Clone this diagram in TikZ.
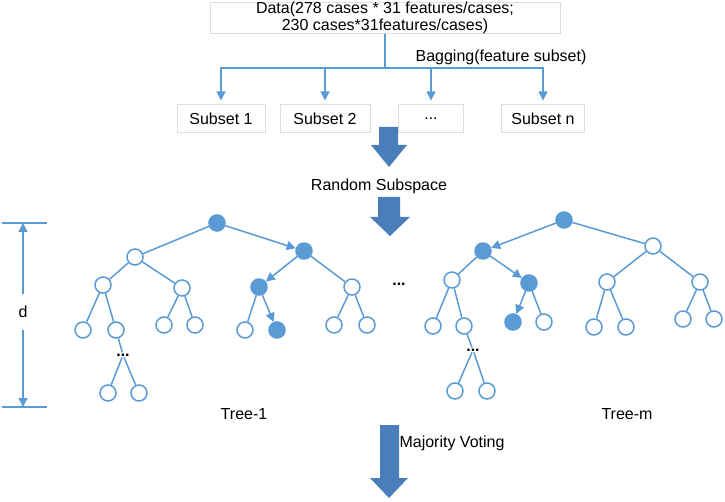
\documentclass[tikz,border=0pt]{standalone}
\usepackage{fontspec}
\setmainfont{Liberation Sans}
\usetikzlibrary{arrows.meta}
\definecolor{lineblue}{HTML}{5B9BD5}
\definecolor{blockblue}{HTML}{4A7EBB}
\definecolor{boxgray}{HTML}{DDDDDD}

\begin{document}
\begin{tikzpicture}[x=1pt, y=-1pt,
    every node/.style={font=\fontsize{16}{17}\selectfont},
    box/.style={draw=boxgray, line width=1pt, inner sep=0pt, minimum height=28pt},
    leaf/.style={draw=lineblue, circle, line width=1.5pt, fill=white, minimum size=16pt, inner sep=0pt},
    hit/.style={leaf, fill=lineblue},
    edge/.style={draw=lineblue, line width=1.5pt},
    arrow/.style={edge, -{Triangle[length=9pt,width=9pt]}},
    bigarrow/.style={fill=blockblue, draw=none}]
    \useasboundingbox (0,0) rectangle (725,502);

    % data and subsets
    \node[box, minimum width=350pt, minimum height=30pt, align=center] (data) at (385,18)
      {Data(278 cases * 31 features/cases;\\230 cases*31features/cases)};
    \coordinate (split) at (385,68);
    \node at (501,57) (bag) {Bagging(feature subset)};
    \node[box, minimum width=88pt] (s1) at (221,119) {Subset 1};
    \node[box, minimum width=90pt] (s2) at (325,119) {Subset 2};
    \node[box, minimum width=65pt] (s3) at (431,119) {...};
    \node[box, minimum width=83pt] (sn) at (543,119) {Subset n};
    \draw[edge] (data.south) -- (split);
    \draw[arrow, shorten >=4pt] (split) -| (s1);
    \draw[arrow, shorten >=4pt] (split) -| (s2);
    \draw[arrow, shorten >=4pt] (split) -| (s3);
    \draw[arrow, shorten >=4pt] (split) -| (sn);

    % block arrows
    \fill[bigarrow] (379,127) -- (398,127) -- (398,145) -- (407,145) -- (389,167)
      -- (371,145) -- (379,145) -- cycle;
    \node (rs) at (379,186) {Random Subspace};
    \fill[bigarrow] (378,197) -- (400,197) -- (400,217) -- (410,217) -- (390,236)
      -- (370,217) -- (378,217) -- cycle;

    % depth
    \coordinate (dtop) at (23,223);
    \coordinate (dbot) at (23,407);
    \draw[edge] (2,223) -- (47,223);
    \draw[edge] (2,407) -- (47,407);
    \node[minimum height=36pt, inner sep=0pt] (d) at (23,312) {d};
    \draw[arrow] (d) -- (dtop);
    \draw[arrow] (d) -- (dbot);

    % Tree-1
    \node[hit] (a) at (217,223) {};
    \node[leaf] (aa) at (135,257) {};
    \node[hit] (ab) at (304,251) {};
    \node[leaf] (aaa) at (103,285) {};
    \node[leaf] (aab) at (182,288) {};
    \node[hit] (aba) at (259,287) {};
    \node[leaf] (abb) at (352,287) {};
    \node[leaf] (aaaa) at (83,330) {};
    \node[leaf] (aaab) at (116,330) {};
    \node[leaf] (aaba) at (164,325) {};
    \node[leaf] (aabb) at (195,325) {};
    \node[leaf] (abaa) at (245,330) {};
    \node[hit] (abab) at (277,330) {};
    \node[leaf] (abba) at (334,325) {};
    \node[leaf] (abbb) at (367,325) {};
    \node[inner sep=1pt] (adots) at (123,355) {\textbf{...}};
    \node[leaf] (ax) at (108,393) {};
    \node[leaf] (ay) at (139,393) {};
    \draw[edge] (a) -- (aa);
    \draw[arrow] (a) -- (ab);
    \draw[edge] (aa) -- (aaa);
    \draw[edge] (aa) -- (aab);
    \draw[arrow] (ab) -- (aba);
    \draw[edge] (ab) -- (abb);
    \draw[edge] (aaa) -- (aaaa);
    \draw[edge] (aaa) -- (aaab);
    \draw[edge] (aab) -- (aaba);
    \draw[edge] (aab) -- (aabb);
    \draw[edge] (aba) -- (abaa);
    \draw[arrow] (aba) -- (abab);
    \draw[edge] (abb) -- (abba);
    \draw[edge] (abb) -- (abbb);
    \draw[edge] (aaab) -- (adots);
    \draw[edge] (adots) -- (ax);
    \draw[edge] (adots) -- (ay);
    \node (t1) at (244,414) {Tree-1};

    \node (tdots) at (399,284) {\textbf{...}};

    % Tree-m
    \node[hit] (m) at (564,220) {};
    \node[hit] (ma) at (483,251) {};
    \node[leaf] (mb) at (653,246) {};
    \node[leaf] (maa) at (452,280) {};
    \node[hit] (mab) at (529,283) {};
    \node[leaf] (mba) at (607,282) {};
    \node[leaf] (mbb) at (700,282) {};
    \node[leaf] (maaa) at (433,326) {};
    \node[leaf] (maab) at (464,326) {};
    \node[hit] (maba) at (513,322) {};
    \node[leaf] (mabb) at (544,322) {};
    \node[leaf] (mbaa) at (594,327) {};
    \node[leaf] (mbab) at (626,327) {};
    \node[leaf] (mbba) at (683,319) {};
    \node[leaf] (mbbb) at (714,319) {};
    \node[inner sep=1pt] (mdots) at (473,350) {\textbf{...}};
    \node[leaf] (mx) at (455,391) {};
    \node[leaf] (my) at (487,391) {};
    \draw[arrow] (m) -- (ma);
    \draw[edge] (m) -- (mb);
    \draw[edge] (ma) -- (maa);
    \draw[arrow] (ma) -- (mab);
    \draw[edge] (mb) -- (mba);
    \draw[edge] (mb) -- (mbb);
    \draw[edge] (maa) -- (maaa);
    \draw[edge] (maa) -- (maab);
    \draw[arrow] (mab) -- (maba);
    \draw[edge] (mab) -- (mabb);
    \draw[edge] (mba) -- (mbaa);
    \draw[edge] (mba) -- (mbab);
    \draw[edge] (mbb) -- (mbba);
    \draw[edge] (mbb) -- (mbbb);
    \draw[edge] (maab) -- (mdots);
    \draw[edge] (mdots) -- (mx);
    \draw[edge] (mdots) -- (my);
    \node (tm) at (627,414) {Tree-m};

    % voting
    \fill[bigarrow] (380,425) -- (399,425) -- (399,478) -- (408,478) -- (389,498)
      -- (370,478) -- (380,478) -- cycle;
    \node (vote) at (452,443) {Majority Voting};
  \end{tikzpicture}
\end{document}
